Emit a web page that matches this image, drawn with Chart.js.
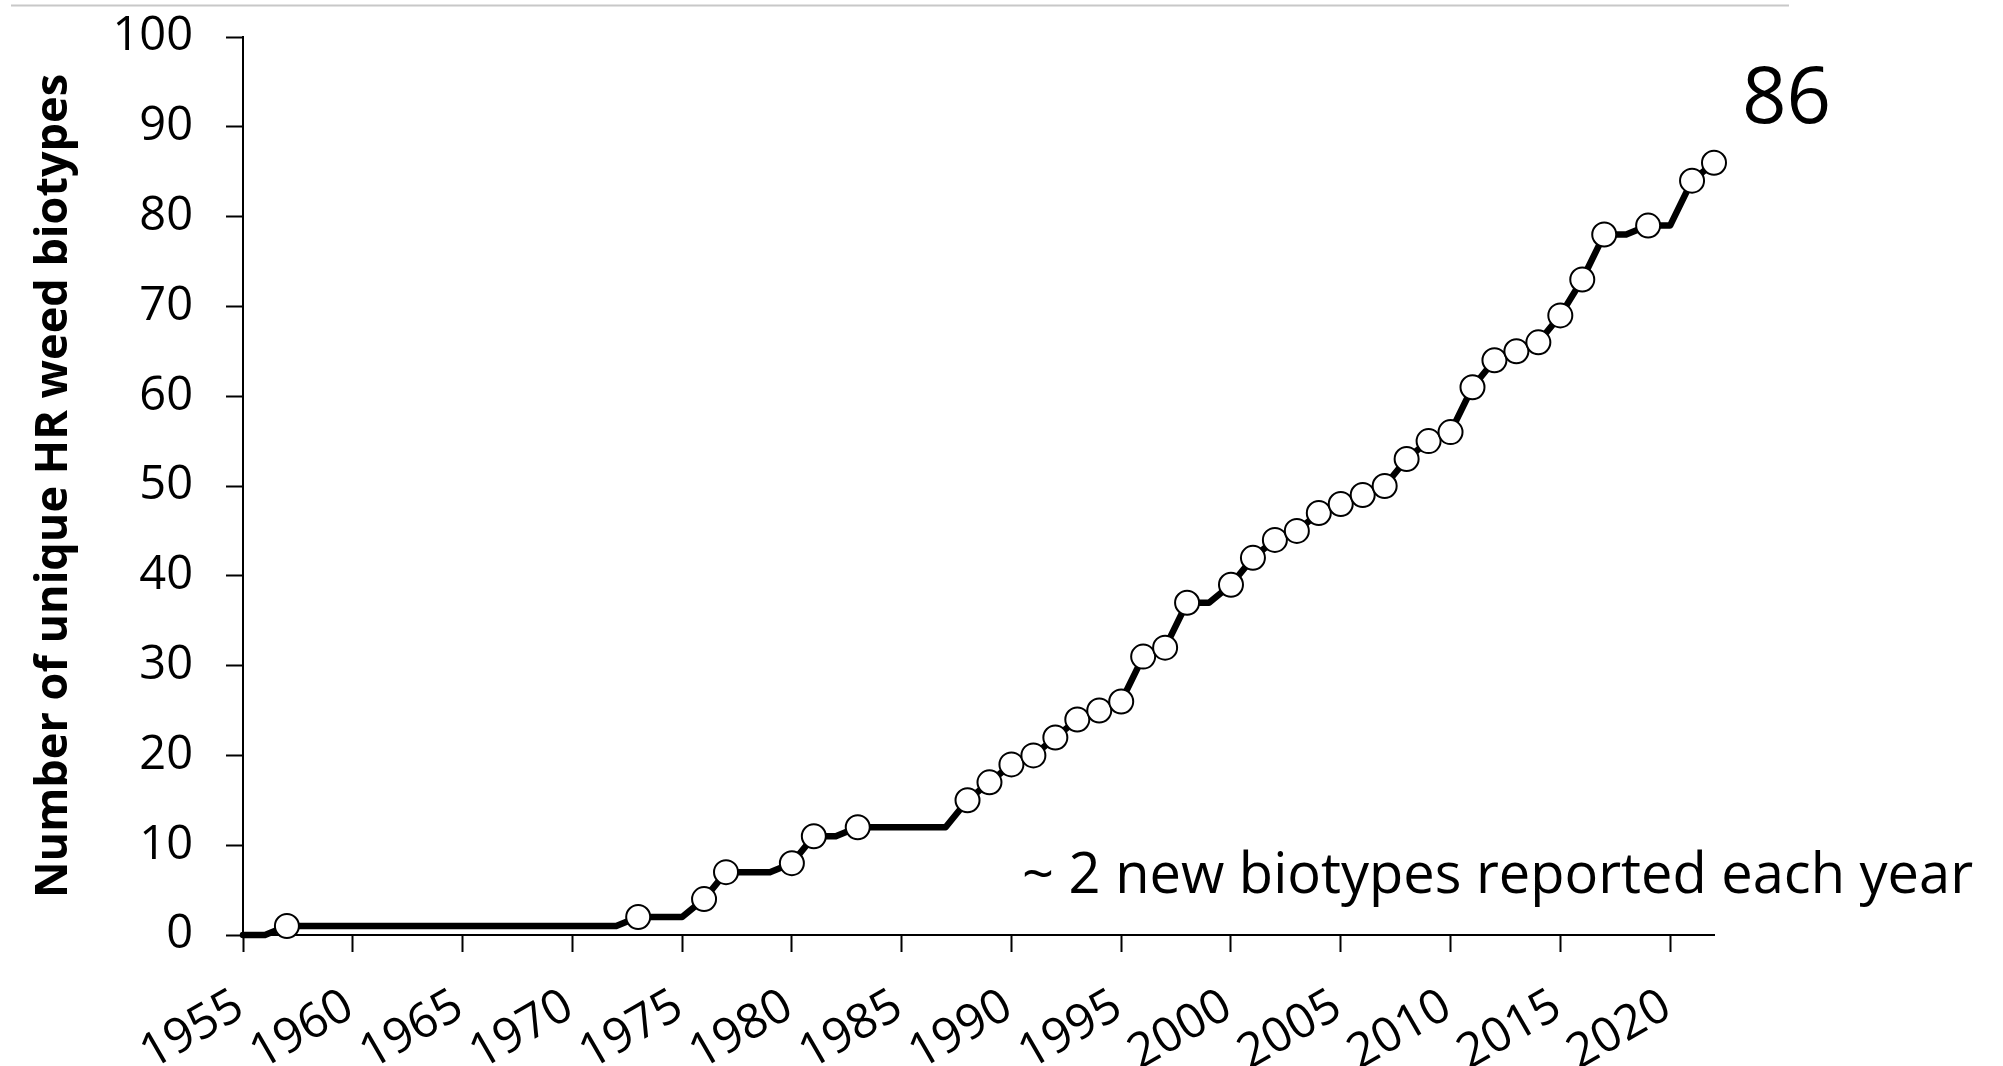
<!DOCTYPE html>
<html>
<head>
<meta charset="utf-8">
<script src="https://cdn.jsdelivr.net/npm/chart.js@4.4.1/dist/chart.umd.min.js"></script>
<style>
  html, body { margin: 0; padding: 0; background: #ffffff; }
  #wrap { position: relative; width: 2003px; height: 1066px; }
  canvas { display: block; }
</style>
</head>
<body>
<div id="wrap"><canvas id="c" width="2003" height="1066"></canvas></div>
<script>
// ---- data ----
const years = [
  1955, 1956, 1957, 1958, 1959, 1960, 1961, 1962, 1963, 1964,
  1965, 1966, 1967, 1968, 1969, 1970, 1971, 1972, 1973, 1974,
  1975, 1976, 1977, 1978, 1979, 1980, 1981, 1982, 1983, 1984,
  1985, 1986, 1987, 1988, 1989, 1990, 1991, 1992, 1993, 1994,
  1995, 1996, 1997, 1998, 1999, 2000, 2001, 2002, 2003, 2004,
  2005, 2006, 2007, 2008, 2009, 2010, 2011, 2012, 2013, 2014,
  2015, 2016, 2017, 2018, 2019, 2020, 2021, 2022
];
const cumulativeBiotypes = [
  0, 0, 1, 1, 1, 1, 1, 1, 1, 1,
  1, 1, 1, 1, 1, 1, 1, 1, 2, 2,
  2, 4, 7, 7, 7, 8, 11, 11, 12, 12,
  12, 12, 12, 15, 17, 19, 20, 22, 24, 25,
  26, 31, 32, 37, 37, 39, 42, 44, 45, 47,
  48, 49, 50, 53, 55, 56, 61, 64, 65, 66,
  69, 73, 78, 78, 79, 79, 84, 86
];
const xTickValues = [1955, 1960, 1965, 1970, 1975, 1980, 1985, 1990, 1995, 2000, 2005, 2010, 2015, 2020];
const yTickValues = [0, 10, 20, 30, 40, 50, 60, 70, 80, 90, 100];
const yAxisTitle = 'Number of unique HR weed biotypes';
const totalLabel = '86';
const rateNote = '~ 2 new biotypes reported each year';

// ---- chart ----
const points = years.map((y, i) => ({ x: y, y: cumulativeBiotypes[i] }));

const decorations = {
  id: 'decorations',
  beforeDraw(chart) {
    const ctx = chart.ctx;
    ctx.save();
    ctx.strokeStyle = '#c8c8c8';
    ctx.lineWidth = 2;
    ctx.beginPath();
    ctx.moveTo(11, 5.5);
    ctx.lineTo(1789, 5.5);
    ctx.stroke();
    ctx.restore();
  },
  afterDraw(chart) {
    const ctx = chart.ctx;
    ctx.save();
    ctx.fillStyle = '#000000';
    ctx.textBaseline = 'alphabetic';
    ctx.textAlign = 'left';
    ctx.font = '78px "Open Sans"';
    ctx.fillText(totalLabel, 1742, 123);
    ctx.font = '56px "Open Sans"';
    ctx.fillText(rateNote, 1022, 893);
    ctx.restore();
  }
};

new Chart(document.getElementById('c'), {
  type: 'line',
  data: {
    datasets: [{
      data: points,
      clip: false,
      borderColor: '#000000',
      borderWidth: 6.5,
      borderJoinStyle: 'round',
      borderCapStyle: 'round',
      tension: 0,
      fill: false,
      pointRadius: (c) => {
        const i = c.dataIndex;
        return i > 0 && cumulativeBiotypes[i] > cumulativeBiotypes[i - 1] ? 12 : 0;
      },
      pointBackgroundColor: '#ffffff',
      pointBorderColor: '#000000',
      pointBorderWidth: 2,
      pointHoverRadius: 0
    }]
  },
  options: {
    responsive: false,
    animation: false,
    events: [],
    layout: { padding: { top: 37, right: 289, left: 0, bottom: 0 } },
    plugins: { legend: { display: false }, tooltip: { enabled: false } },
    scales: {
      x: {
        type: 'linear',
        min: 1955,
        max: 2022,
        afterBuildTicks: (s) => { s.ticks = xTickValues.map(v => ({ value: v })); },
        afterFit: (s) => { s.height = 131; s.paddingLeft = 0; s.paddingRight = 0; },
        border: { display: true, color: '#000000', width: 2 },
        grid: { drawOnChartArea: false, drawTicks: true, tickLength: 17, tickColor: '#000000', tickWidth: 2 },
        ticks: {
          color: '#000000',
          font: { family: 'Open Sans', size: 48 },
          autoSkip: false,
          maxRotation: 30,
          minRotation: 30,
          padding: 26,
          labelOffset: -3,
          callback: (v) => String(v)
        }
      },
      y: {
        min: 0,
        max: 100,
        afterBuildTicks: (s) => { s.ticks = yTickValues.map(v => ({ value: v })); },
        afterFit: (s) => { s.width = 243; s.paddingTop = 0; s.paddingBottom = 0; },
        border: { display: true, color: '#000000', width: 2 },
        grid: { drawOnChartArea: false, drawTicks: true, tickLength: 17, tickColor: '#000000', tickWidth: 2 },
        ticks: {
          color: '#000000',
          font: { family: 'Open Sans', size: 47 },
          padding: 33
        },
        title: {
          display: true,
          text: yAxisTitle,
          color: '#000000',
          font: { family: 'Open Sans', size: 45, weight: 'bold' },
          padding: { top: 27, bottom: 0 }
        }
      }
    }
  },
  plugins: [decorations]
});
</script>
</body>
</html>
